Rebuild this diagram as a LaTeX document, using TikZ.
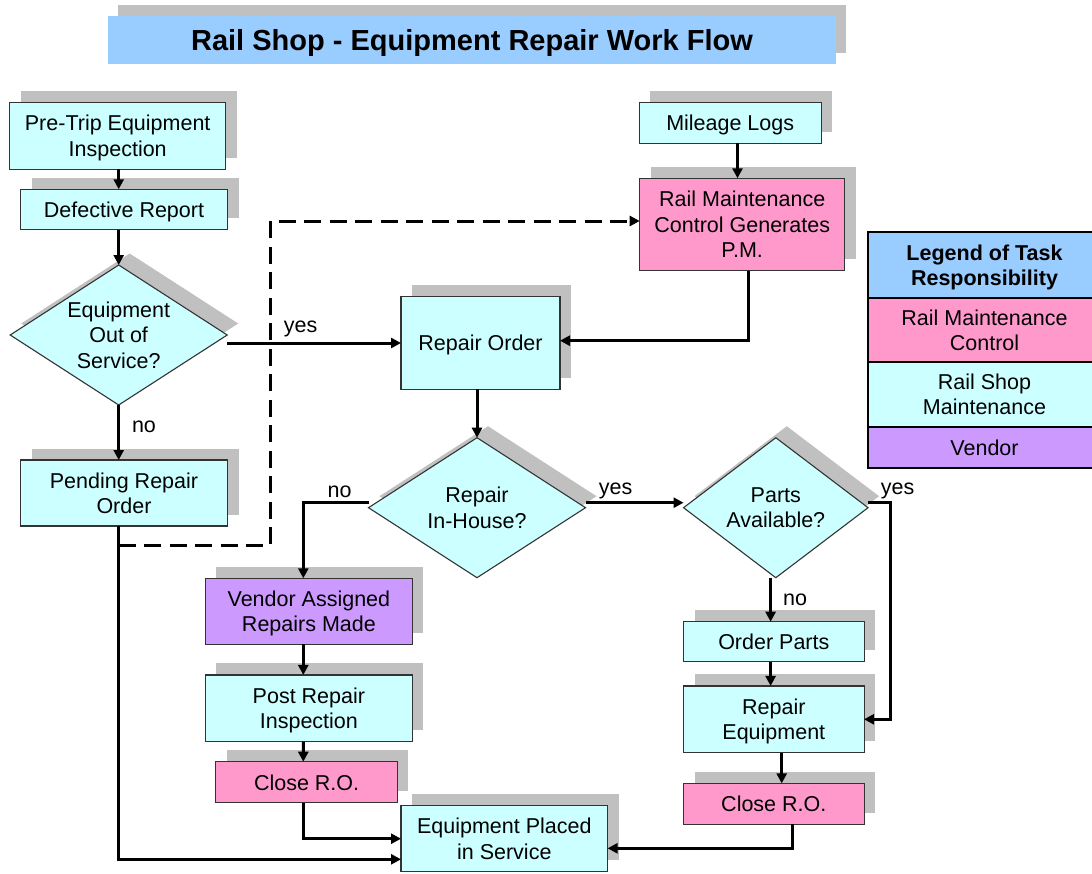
\documentclass[tikz,border=0pt]{standalone}
\usepackage{fontspec}
\setmainfont{Liberation Sans}
\usetikzlibrary{arrows.meta,shapes.geometric,shadows,calc}
\definecolor{cy}{HTML}{CCFFFF}
\definecolor{pk}{HTML}{FF99CC}
\definecolor{pu}{HTML}{CC99FF}
\definecolor{tb}{HTML}{99CCFF}
\definecolor{sg}{HTML}{C0C0C0}
\newcommand\nfont{\fontsize{21.5}{25.5}\selectfont}
\begin{document}
\begin{tikzpicture}[x=1pt,y=-1pt,
  sz/.style 2 args={minimum width=#1pt, minimum height=#2pt},
  shd/.style={drop shadow={shadow xshift=11pt,shadow yshift=11.5pt,fill=sg,opacity=1}},
  tbox/.style={rectangle, draw=black!80, line width=1.1pt, align=center, inner sep=0pt, outer sep=0pt, text depth=0pt, font=\nfont, shd},
  cyanbox/.style={tbox, fill=cy},
  pinkbox/.style={tbox, fill=pk},
  purplebox/.style={tbox, fill=pu},
  dia/.style={diamond, draw=black!80, line width=1.1pt, fill=cy, inner sep=0pt, outer sep=0pt, shd},
  dtext/.style={font=\nfont, align=center, inner sep=0pt, text depth=0pt},
  leg/.style={rectangle, draw=black, line width=2pt, align=center, inner sep=0pt, outer sep=0pt, text depth=0pt, font=\nfont},
  lbl/.style={font=\nfont, inner sep=0pt},
  arr/.style={line width=3pt, -{Triangle[length=10pt,width=10pt]}},
  dasharr/.style={arr, dash pattern=on 17pt off 8.5pt}
]
\useasboundingbox (0,0) rectangle (1092,873);
\clip (0,0) rectangle (1092,873);

% title
\node[fill=tb, sz={728}{48}, inner sep=0pt, text depth=0pt, font=\fontsize{29}{34}\selectfont\bfseries,
  drop shadow={shadow xshift=10pt,shadow yshift=11pt,fill=sg,opacity=1}] (title) at (472,39.7)
  {Rail Shop - Equipment Repair Work Flow};

% boxes
\node[cyanbox, sz={216}{66.3}] (pretrip) at (117.7,135.9) {Pre-Trip Equipment\\Inspection};
\node[cyanbox, sz={207}{40.5}] (defect) at (124,209.5) {Defective Report};
\node[dia, sz={217}{140}, label={[dtext]center:{Equipment\\Out of\\Service?}}] (d1) at (118.7,335) {};
\node[cyanbox, sz={207}{66}] (pending) at (124,493) {Pending Repair\\Order};
\node[cyanbox, sz={181.7}{40.6}] (mileage) at (730.2,123) {Mileage Logs};
\node[pinkbox, sz={205}{92.4}] (rmc) at (742.2,224.5) {Rail Maintenance\\Control Generates\\P.M.};
\node[cyanbox, sz={159}{92.6}] (repord) at (480.5,343) {Repair Order};
\node[dia, sz={217}{140}, label={[dtext]center:{Repair\\In-House?}}] (d2) at (477,507.7) {};
\node[dia, sz={184.5}{140}, label={[dtext]center:{Parts\\Available?}}] (parts) at (775.8,507.7) {};
\node[purplebox, sz={207}{66}] (vendor) at (308.9,611.3) {Vendor Assigned\\Repairs Made};
\node[cyanbox, sz={207}{66.7}] (post) at (308.9,708.3) {Post Repair\\Inspection};
\node[pinkbox, sz={181.4}{41}] (closeL) at (306.6,782.2) {Close R.O.};
\node[cyanbox, sz={206.6}{66}] (equip) at (504.3,838.7) {Equipment Placed\\in Service};
\node[cyanbox, sz={180.5}{40}] (order) at (773.8,641.7) {Order Parts};
\node[cyanbox, sz={180.5}{66.7}] (repeq) at (773.8,719.3) {Repair\\Equipment};
\node[pinkbox, sz={180.5}{40.7}] (closeR) at (773.8,803.7) {Close R.O.};

% legend
\node[leg, fill=tb, sz={233}{66}, font=\nfont\bfseries] (lhead) at (984.5,265.3) {Legend of Task\\Responsibility};
\node[leg, fill=pk, sz={233}{63.4}] (lrmc) at (984.5,330) {Rail Maintenance\\Control};
\node[leg, fill=cy, sz={233}{65}] (lrsm) at (984.5,394.2) {Rail Shop\\Maintenance};
\node[leg, fill=pu, sz={233}{41.6}] (lven) at (984.5,447.5) {Vendor};

% labels
\node[lbl] (yes1) at (300.6,329.3) {yes};
\node[lbl] (no1) at (144,426.7) {no};
\node[lbl] (no2) at (339.5,491.7) {no};
\node[lbl] (yes2) at (615.6,490.7) {yes};
\node[lbl] (yes3) at (897.7,490.7) {yes};
\node[lbl] (no3) at (795,600) {no};

% connectors
\draw[arr] (pretrip.south -| d1.north) -- (defect.north -| d1.north);
\draw[arr] (defect.south -| d1.north) -- (d1.north);
\draw[arr] (d1.east |- repord.west) -- (repord.west);
\draw[arr] (d1.south) -- (pending.north -| d1.south);
\draw[arr] (pending.south -| d1.south) |- ([yshift=-20.6pt]equip.west);
\coordinate (dA) at (118.7,545.7);
\coordinate (dB) at (270,545.7);
\draw[dasharr] (dA) -- (dB) |- ([yshift=3.5pt]rmc.west);
\draw[arr] ([xshift=7.3pt]mileage.south) -- ([xshift=7.3pt]mileage.south |- rmc.north);
\draw[arr] ([xshift=6pt]rmc.south) |- ([yshift=2.3pt]repord.east);
\draw[arr] (d2.north |- repord.south) -- (d2.north);
\draw[arr] ([yshift=5pt]d2.west) -| ([xshift=-5.6pt]vendor.north);
\draw[arr] ([yshift=5pt]d2.east) -- ([yshift=5pt]parts.west);
\coordinate (pj) at (890,502.7);
\draw[arr] ([yshift=5pt]parts.east) -- (pj) |- (repeq.east);
\draw[arr] ([xshift=-5.2pt]parts.south) -- ([xshift=-3.2pt]order.north);
\draw[arr] ([xshift=-3.2pt]order.south) -- ([xshift=-3.2pt]repeq.north);
\draw[arr] ([xshift=7.9pt]repeq.south) -- ([xshift=7.9pt]closeR.north);
\draw[arr] ([xshift=18.7pt]closeR.south) |- ([yshift=-9.6pt]equip.east);
\draw[arr] ([xshift=-5.6pt]vendor.south) -- ([xshift=-5.6pt]post.north);
\draw[arr] ([xshift=-5.6pt]post.south) -- ([xshift=-3.3pt]closeL.north);
\draw[arr] ([xshift=-3.3pt]closeL.south) |- (equip.west);
\end{tikzpicture}
\end{document}
